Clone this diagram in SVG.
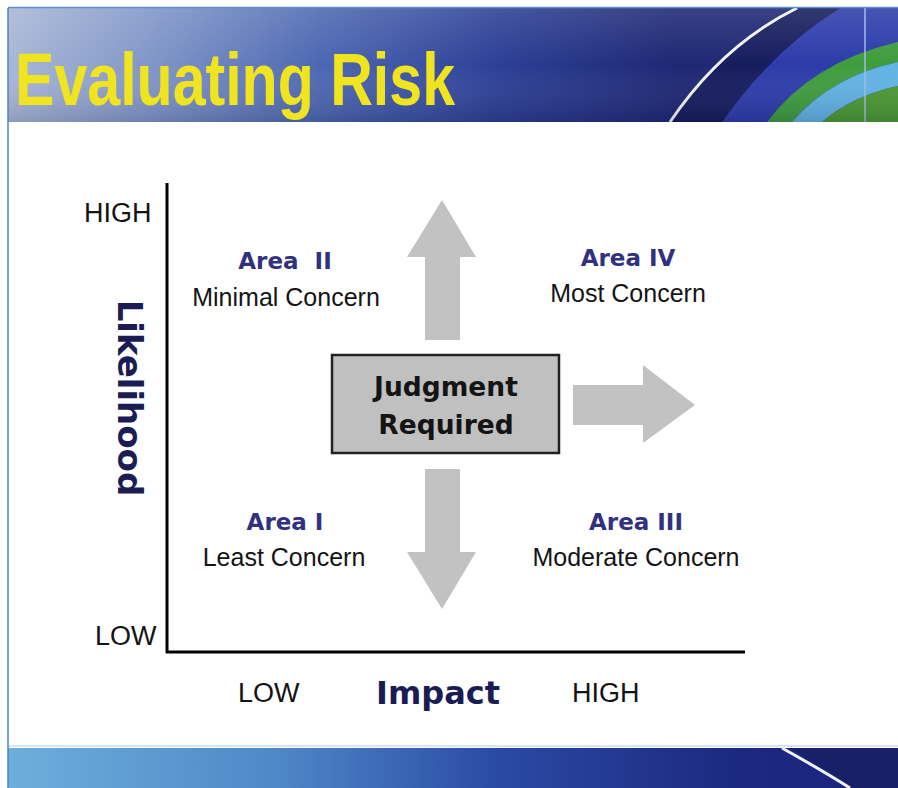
<svg xmlns="http://www.w3.org/2000/svg" width="898" height="788" viewBox="0 0 898 788">
  <defs>
    <linearGradient id="hdr" x1="0" y1="0" x2="1" y2="0">
      <stop offset="0" stop-color="#a8b7d6"/>
      <stop offset="0.15" stop-color="#8398c9"/>
      <stop offset="0.35" stop-color="#4d68b2"/>
      <stop offset="0.55" stop-color="#2d3f96"/>
      <stop offset="0.75" stop-color="#1e2874"/>
      <stop offset="1" stop-color="#1e2874"/>
    </linearGradient>
    <linearGradient id="hdrV" x1="0" y1="0" x2="0" y2="1">
      <stop offset="0" stop-color="#ffffff" stop-opacity="0.12"/>
      <stop offset="0.5" stop-color="#ffffff" stop-opacity="0"/>
      <stop offset="1" stop-color="#000020" stop-opacity="0.15"/>
    </linearGradient>
    <linearGradient id="ftr" x1="0" y1="0" x2="1" y2="0">
      <stop offset="0" stop-color="#6eaedb"/>
      <stop offset="0.3" stop-color="#4f88c8"/>
      <stop offset="0.55" stop-color="#2a4aa4"/>
      <stop offset="0.8" stop-color="#1d2a82"/>
      <stop offset="1" stop-color="#1a237a"/>
    </linearGradient>
    <style>
      .reg { font-family: "Liberation Sans", Arial, sans-serif; font-size: 25px; fill: #141414; }
      .axis { font-family: "Liberation Sans", Arial, sans-serif; font-size: 27px; fill: #141414; }
      .area { font-family: "DejaVu Sans", Verdana, sans-serif; font-weight: bold; font-size: 23px; fill: #31317f; text-anchor: middle; }
      .mid { text-anchor: middle; }
      .arrow { fill: #c2c2c2; }
    </style>
  </defs>

  <rect x="0" y="0" width="898" height="788" fill="#ffffff"/>

  <!-- header -->
  <g id="header">
    <rect x="8" y="8" width="890" height="114" fill="url(#hdr)"/>
    <path d="M840,8 L898,8 L898,122 L722,122 Q772,50 840,8 Z" fill="#2e3caa"/>
    <path d="M797,8 Q722,45 670,122 L722,122 Q772,50 840,8 Z" fill="#161d5e"/>
    <path d="M767,122 Q812,62 898,42 L898,62 Q832,76 792,122 Z" fill="#3f9d3e"/>
    <path d="M792,122 Q832,76 898,62 L898,86 Q852,96 822,122 Z" fill="#62b3e4"/>
    <path d="M822,122 Q852,96 898,86 L898,122 Z" fill="#4c9a34"/>
    <line x1="865" y1="8" x2="865" y2="122" stroke="#a9bde6" stroke-width="2" opacity="0.7"/>
    <path d="M797,8 Q722,45 670,122" fill="none" stroke="#f4f4ee" stroke-width="3"/>
    <rect x="8" y="8" width="890" height="114" fill="url(#hdrV)"/>
    <line x1="8" y1="7.5" x2="898" y2="7.5" stroke="#5a8fd0" stroke-width="1.5"/>
    <text x="15" y="105" textLength="440" lengthAdjust="spacingAndGlyphs" font-family="Liberation Sans, Arial, sans-serif" font-weight="bold" font-size="74" fill="#f0e420">Evaluating Risk</text>
  </g>

  <!-- footer -->
  <g id="footer">
    <rect x="8" y="748" width="890" height="40" fill="url(#ftr)"/>
    <path d="M790,748 Q830,775 852,788 L898,788 L898,748 Z" fill="#18206a"/>
    <path d="M782,748 Q825,772 850,788" fill="none" stroke="#f2f2f2" stroke-width="3"/>
    <line x1="8" y1="746" x2="898" y2="746" stroke="#d6e6f4" stroke-width="2"/>
  </g>

  <line x1="8" y1="8" x2="8" y2="788" stroke="#4f82c8" stroke-width="1.5"/>

  <!-- axes -->
  <g id="axes" stroke="#000" stroke-width="3" fill="none">
    <line x1="167" y1="183" x2="167" y2="653"/>
    <line x1="166" y1="652" x2="745" y2="652"/>
  </g>

  <!-- connectors (arrows) -->
  <g id="connectors">
    <polygon class="arrow" points="442,200 476,257 460,257 460,340 425,340 425,257 407,257"/>
    <polygon class="arrow" points="425,469 460,469 460,552 476,552 442,609 407,552 425,552"/>
    <polygon class="arrow" points="573,385 643,385 643,365 695,405 643,443 643,425 573,425"/>
  </g>

  <!-- central node -->
  <g id="judgment">
    <rect x="332" y="355" width="227" height="98" fill="#c0c0c0" stroke="#222" stroke-width="2.5"/>
    <text x="446" y="396" font-family="DejaVu Sans, Verdana, sans-serif" font-weight="bold" font-size="26.5" fill="#141414" text-anchor="middle">Judgment</text>
    <text x="446" y="434" font-family="DejaVu Sans, Verdana, sans-serif" font-weight="bold" font-size="26.5" fill="#141414" text-anchor="middle">Required</text>
  </g>

  <g id="area2">
    <text class="area" x="285" y="269" xml:space="preserve">Area  II</text>
    <text class="reg mid" x="286" y="306">Minimal Concern</text>
  </g>
  <g id="area4">
    <text class="area" x="628" y="266">Area IV</text>
    <text class="reg mid" x="628" y="302">Most Concern</text>
  </g>
  <g id="area1">
    <text class="area" x="285" y="530">Area I</text>
    <text class="reg mid" x="284" y="566">Least Concern</text>
  </g>
  <g id="area3">
    <text class="area" x="636" y="530">Area III</text>
    <text class="reg mid" x="636" y="566">Moderate Concern</text>
  </g>

  <!-- axis labels -->
  <g id="labels">
    <text class="axis" x="84" y="222">HIGH</text>
    <text class="axis" x="95" y="645">LOW</text>
    <text class="axis" x="238" y="702">LOW</text>
    <text class="axis" x="572" y="702">HIGH</text>
    <text x="438" y="704" font-family="DejaVu Sans, Verdana, sans-serif" font-weight="bold" font-size="32" fill="#1c1c55" text-anchor="middle">Impact</text>
    <text transform="translate(118,398) rotate(90)" font-family="DejaVu Sans, Verdana, sans-serif" font-weight="bold" font-size="34" fill="#1c1c55" text-anchor="middle">Likelihood</text>
  </g>
</svg>
